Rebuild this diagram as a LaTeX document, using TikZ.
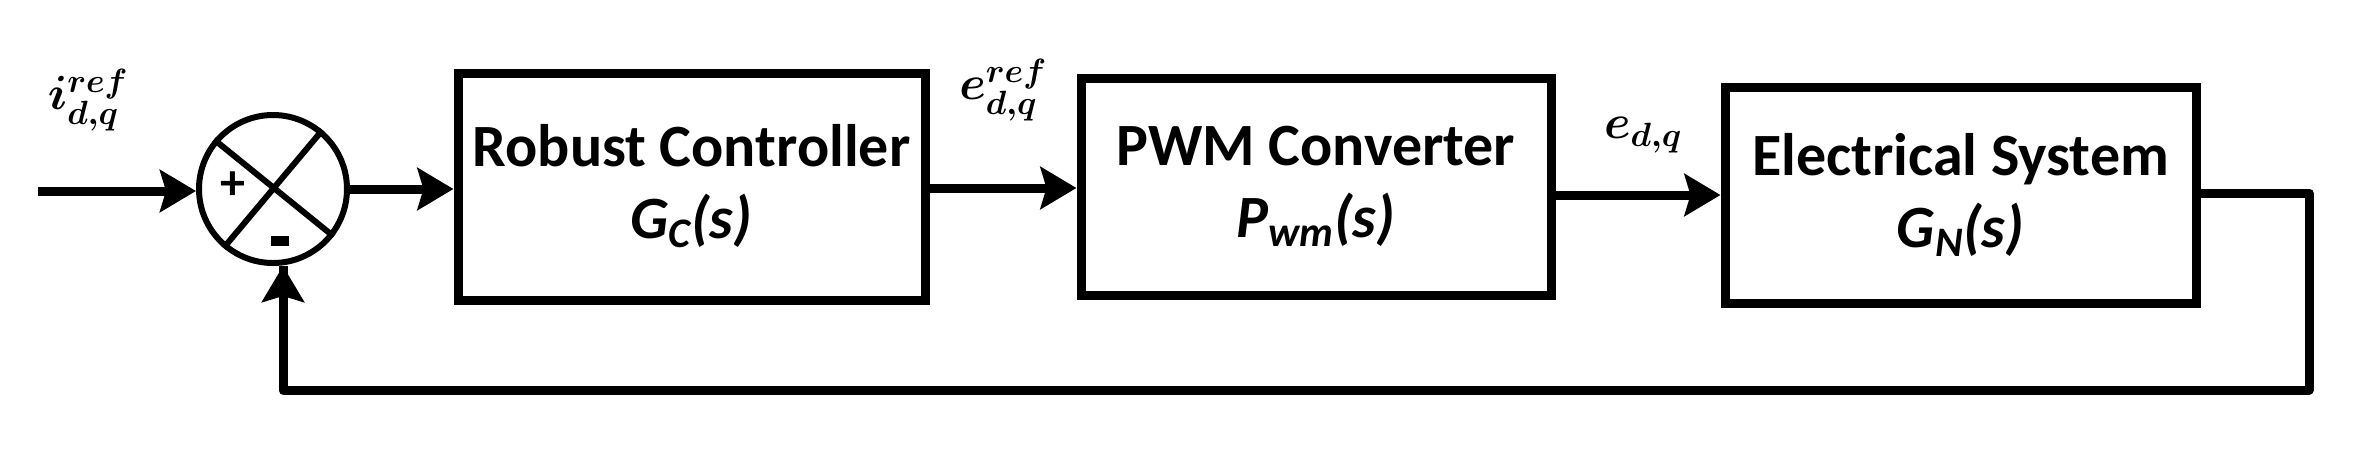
\documentclass[tikz,border=0pt]{standalone}
\usepackage{fix-cm}
\usepackage{fontspec}
\setmainfont{Carlito}
\usetikzlibrary{arrows.meta}
\begin{document}
\begin{tikzpicture}[x=1pt,y=-1pt,
  blk/.style={draw,line width=9pt,minimum width=#1,inner sep=0pt,align=center,font=\fontsize{60}{72}\selectfont\bfseries},
  con/.style={line width=9pt,-{Stealth[length=36pt,width=42pt,inset=6pt]}},
  lab/.style={font=\fontsize{48}{50}\selectfont\boldmath}]
\useasboundingbox (0,0) rectangle (2364,459);
\node[blk=467pt,minimum height=227pt] (b1) at (691.5,186.5) {Robust Controller\\[0pt]\textit{G\textsubscript{C}(s)}};
\node[blk=470pt,minimum height=217pt] (b2) at (1316,186.5) {PWM Converter\\[0pt]\textit{P\textsubscript{wm}(s)}};
\node[blk=471pt,minimum height=216pt] (b3) at (1960.5,195) {Electrical System\\[0pt]\textit{G\textsubscript{N}(s)}};
\node[circle,draw,line width=6pt,minimum size=148pt,inner sep=0pt] (s) at (273,189) {};
\draw[line width=6pt] (s.140) -- (s.-38);
\draw[line width=6pt] (s.50) -- (s.230);
\node[font=\fontsize{50}{50}\selectfont\bfseries] (pl) at (233,186) {+};
\fill (271,236) rectangle (289,246);
\coordinate (in) at (38,191);
\draw[con] (in) -- (s.west|-in);
\draw[con] (s.east) -- (b1.west|-s.east);
\draw[con] (b1.east|-0,188) -- (b2.west|-0,188);
\draw[con] (b2.east|-0,195) -- (b3.west|-0,195);
\coordinate (r) at (2309,193);
\coordinate (d) at (2309,390);
\coordinate (l) at (283,390);
\draw[line width=9pt,line join=round] (b3.east|-r) -- (r) -- (d) -- (l) -- (l|-s.south);
\draw[con] (l) -- (l|-s.south);
\node[lab] (i) at (88,100) {$i^{ref}_{d,q}$};
\node[lab] (e1) at (1003,90) {$e^{ref}_{d,q}$};
\node[lab] (e2) at (1643,135) {$e_{d,q}$};
\end{tikzpicture}
\end{document}
